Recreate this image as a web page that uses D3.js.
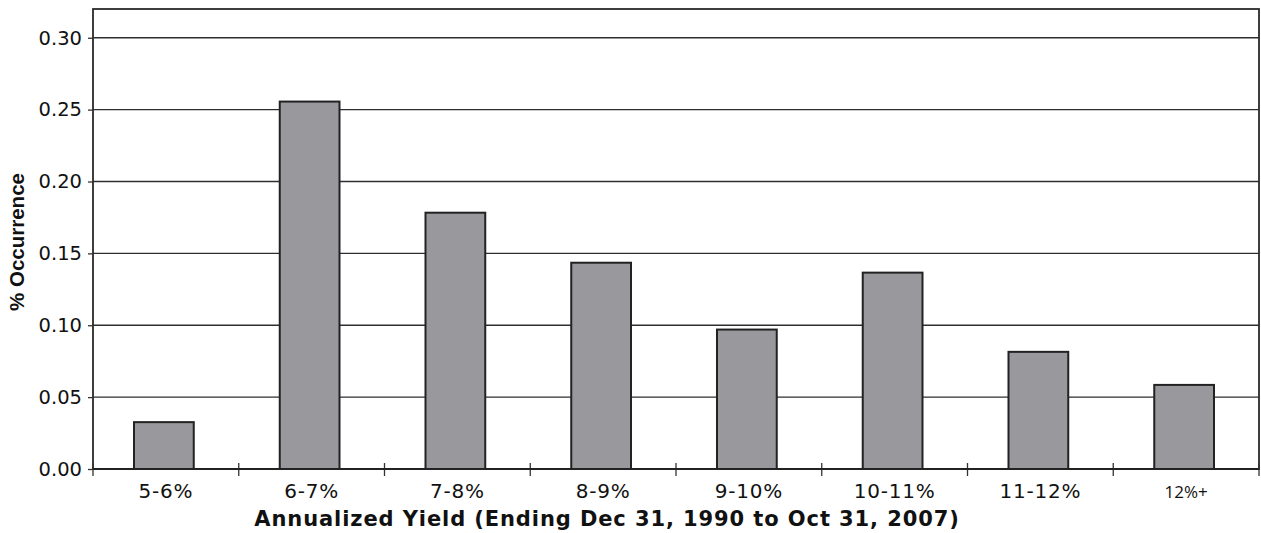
<!DOCTYPE html>
<html>
<head>
<meta charset="utf-8">
<script src="https://cdn.jsdelivr.net/npm/d3@7"></script>
<style>
  body { margin: 0; background: #fff; }
  svg { display: block; }
</style>
</head>
<body>
<div class="chart"></div>
<script>
// Data
const categories = ['5-6%', '6-7%', '7-8%', '8-9%', '9-10%', '10-11%', '11-12%', '12%+'];
const occurrence = [0.0326, 0.2556, 0.1783, 0.1435, 0.0970, 0.1366, 0.0815, 0.0585];
const yTicks = [0, 0.05, 0.10, 0.15, 0.20, 0.25, 0.30];

const w = 1261;
const h = 533;
const margin = { top: 9, right: 2, bottom: 64, left: 93 };
const innerW = w - margin.left - margin.right;
const innerH = h - margin.top - margin.bottom;

const svg = d3.select('.chart')
  .append('svg')
  .attr('width', w)
  .attr('height', h);

const g = svg.append('g')
  .attr('transform', `translate(${margin.left},${margin.top})`);

// Scales
const x = d3.scaleBand()
  .domain(categories)
  .range([0, innerW])
  .paddingInner(0.59)
  .paddingOuter(0.295);

const y = d3.scaleLinear()
  .domain([0, 0.32])
  .range([innerH, 0]);

// Gridlines
g.selectAll('.grid')
  .data(yTicks.filter((d) => d > 0))
  .enter()
  .append('line')
  .attr('class', 'grid')
  .attr('x1', 0)
  .attr('x2', innerW)
  .attr('y1', (d) => y(d))
  .attr('y2', (d) => y(d))
  .attr('stroke', '#2e2e2e')
  .attr('stroke-width', 1.4);

// Bars
g.selectAll('.bar')
  .data(categories)
  .enter()
  .append('rect')
  .attr('class', 'bar')
  .attr('x', (d) => x(d) - 2)
  .attr('y', (d, i) => y(occurrence[i]))
  .attr('width', x.bandwidth())
  .attr('height', (d, i) => innerH - y(occurrence[i]))
  .attr('fill', '#98989d')
  .attr('stroke', '#222')
  .attr('stroke-width', 2);

// Plot frame
g.append('rect')
  .attr('x', 0)
  .attr('y', 0)
  .attr('width', innerW)
  .attr('height', innerH)
  .attr('fill', 'none')
  .attr('stroke', '#2a2a2a')
  .attr('stroke-width', 1.8);

// Y axis
const yAxis = d3.axisLeft(y)
  .tickValues(yTicks)
  .tickFormat(d3.format('.2f'))
  .tickSizeInner(5)
  .tickSizeOuter(0)
  .tickPadding(6);

const yAxisG = g.append('g').call(yAxis);
yAxisG.select('.domain').remove();
yAxisG.selectAll('.tick line').attr('stroke', '#333').attr('stroke-width', 1.3);
yAxisG.selectAll('.tick text')
  .style('font-family', '"DejaVu Sans", Verdana, sans-serif')
  .style('font-size', '19.5px')
  .attr('fill', '#111');

// X axis: ticks at category boundaries
const step = x.step();
const x0 = x.range()[0];
const boundaries = d3.range(categories.length + 1).map((i) => x0 + i * step);

g.selectAll('.xtick')
  .data(boundaries)
  .enter()
  .append('line')
  .attr('class', 'xtick')
  .attr('x1', (d) => d)
  .attr('x2', (d) => d)
  .attr('y1', innerH - 6)
  .attr('y2', innerH + 7)
  .attr('stroke', '#333')
  .attr('stroke-width', 1.3);

g.append('line')
  .attr('x1', 0)
  .attr('x2', innerW)
  .attr('y1', innerH)
  .attr('y2', innerH)
  .attr('stroke', '#222')
  .attr('stroke-width', 2);

g.selectAll('.xlabel')
  .data(categories)
  .enter()
  .append('text')
  .attr('class', 'xlabel')
  .attr('x', (d) => x(d) + x.bandwidth() / 2)
  .attr('y', innerH + 29)
  .attr('text-anchor', 'middle')
  .style('font-family', (d) => d === '12%+' ? '"Open Sans", sans-serif' : '"DejaVu Sans", Verdana, sans-serif')
  .style('font-size', (d) => d === '12%+' ? '17px' : '20px')
  .style('letter-spacing', (d) => d === '12%+' ? '0px' : '0.8px')
  .attr('fill', '#111')
  .text((d) => d);

// Axis titles
svg.append('text')
  .attr('x', 607)
  .attr('y', 526)
  .attr('text-anchor', 'middle')
  .style('font-family', '"DejaVu Sans", Verdana, sans-serif')
  .style('font-weight', 'bold')
  .style('font-size', '21px')
  .style('letter-spacing', '0.9px')
  .attr('fill', '#111')
  .text('Annualized Yield (Ending Dec 31, 1990 to Oct 31, 2007)');

svg.append('text')
  .attr('transform', 'rotate(-90)')
  .attr('x', -242)
  .attr('y', 24)
  .attr('text-anchor', 'middle')
  .style('font-family', '"Liberation Sans", Arial, sans-serif')
  .style('font-weight', 'bold')
  .style('font-size', '20.5px')
  .attr('fill', '#111')
  .text('% Occurrence');
</script>
</body>
</html>
